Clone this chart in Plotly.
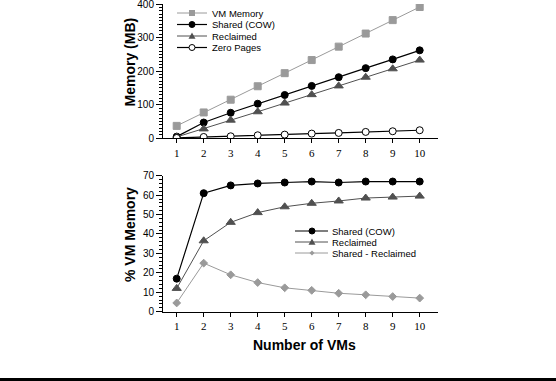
import plotly.graph_objects as go

vms = [1, 2, 3, 4, 5, 6, 7, 8, 9, 10]

# Top panel (MB)
vm_memory = [37, 77, 115, 155, 194, 233, 273, 312, 352, 391]
shared_cow = [5, 47, 76, 103, 129, 156, 182, 209, 235, 262]
reclaimed = [4, 28, 54, 79, 105, 130, 156, 182, 207, 233]
zero_pages = [1, 4, 6, 9, 11, 14, 16, 19, 21, 24]

# Bottom panel (% of VM memory)
pct_shared = [17, 61, 65, 66, 66.5, 67, 66.5, 67, 67, 67]
pct_reclaimed = [12, 36.5, 46, 51, 54, 55.8, 57, 58.5, 59, 59.5]
pct_diff = [4.5, 25, 19, 15, 12.3, 11, 9.5, 8.7, 7.8, 7]

top_names = ["VM Memory", "Shared (COW)", "Reclaimed", "Zero Pages"]
bottom_names = ["Shared (COW)", "Reclaimed", "Shared - Reclaimed"]

W, H = 556, 381
def px(x):
    return x / W
def py(y):
    return 1 - y / H

LGRAY = "#9a9a9a"
DGRAY = "#505050"
sans = "Liberation Sans, Arial, sans-serif"
serif = "Liberation Serif, Times New Roman, serif"

# style per series: (line color, line width, symbol, marker size, fill, outline)
styles_top = [
    (LGRAY, 1, "square", 7, LGRAY, LGRAY),
    ("black", 1.2, "circle", 7, "black", "black"),
    (DGRAY, 1, "triangle-up", 8, DGRAY, DGRAY),
    ("black", 1.2, "circle", 7, "white", "black"),
]
styles_bottom = [
    ("black", 1.2, "circle", 7, "black", "black"),
    (DGRAY, 1, "triangle-up", 8, DGRAY, DGRAY),
    (LGRAY, 1, "diamond", 6, LGRAY, LGRAY),
]

fig = go.Figure()
for name, ys, st in zip(top_names, [vm_memory, shared_cow, reclaimed, zero_pages], styles_top):
    fig.add_trace(go.Scatter(x=vms, y=ys, name=name, mode="lines+markers", showlegend=False,
                             line=dict(color=st[0], width=st[1]),
                             marker=dict(symbol=st[2], size=st[3], color=st[4], line=dict(color=st[5], width=1)),
                             xaxis="x", yaxis="y"))
for name, ys, st in zip(bottom_names, [pct_shared, pct_reclaimed, pct_diff], styles_bottom):
    fig.add_trace(go.Scatter(x=vms, y=ys, name=name, mode="lines+markers", showlegend=False,
                             line=dict(color=st[0], width=st[1]),
                             marker=dict(symbol=st[2], size=st[3], color=st[4], line=dict(color=st[5], width=1)),
                             xaxis="x2", yaxis="y2"))

# Custom compact legends (shapes + annotations)
shapes = []
annotations = []

def marker_shape(sym, cx, cy, size, fill, outline):
    r = size / 2.0
    if sym == "circle":
        return dict(type="circle", xref="paper", yref="paper", x0=px(cx - r), x1=px(cx + r),
                    y0=py(cy + r), y1=py(cy - r), fillcolor=fill, line=dict(color=outline, width=1))
    if sym == "square":
        return dict(type="rect", xref="paper", yref="paper", x0=px(cx - r), x1=px(cx + r),
                    y0=py(cy + r), y1=py(cy - r), fillcolor=fill, line=dict(color=outline, width=0))
    if sym == "triangle-up":
        path = "M %f,%f L %f,%f L %f,%f Z" % (px(cx), py(cy - r), px(cx - r), py(cy + r * 0.8),
                                               px(cx + r), py(cy + r * 0.8))
    else:  # diamond
        path = "M %f,%f L %f,%f L %f,%f L %f,%f Z" % (px(cx), py(cy - r), px(cx + r), py(cy),
                                                       px(cx), py(cy + r), px(cx - r), py(cy))
    return dict(type="path", xref="paper", yref="paper", path=path, fillcolor=fill,
                line=dict(color=outline, width=0))

def add_legend(names, styles, x0, x1, xm, xt, rows):
    for name, st, yr in zip(names, styles, rows):
        shapes.append(dict(type="line", xref="paper", yref="paper", x0=px(x0), x1=px(x1),
                           y0=py(yr), y1=py(yr), line=dict(color=st[0], width=st[1])))
        shapes.append(marker_shape(st[2], xm, yr, st[3] - 1, st[4], st[5]))
        annotations.append(dict(text=name, xref="paper", yref="paper", x=px(xt), y=py(yr),
                                xanchor="left", yanchor="middle", showarrow=False,
                                font=dict(family=sans, size=9.5, color="black")))

add_legend(top_names, styles_top, 177, 207, 192, 210, [13, 24.5, 36, 47.5])
add_legend(bottom_names, styles_bottom, 295, 328, 312, 330, [231, 242, 253])

# Axis titles
annotations.append(dict(text="<b>Memory (MB)</b>", xref="paper", yref="paper", x=px(129.5), y=py(62),
                        textangle=-90, showarrow=False, xanchor="center", yanchor="middle",
                        font=dict(family=sans, size=14, color="black")))
annotations.append(dict(text="<b>% VM Memory</b>", xref="paper", yref="paper", x=px(130), y=py(235),
                        textangle=-90, showarrow=False, xanchor="center", yanchor="middle",
                        font=dict(family=sans, size=14, color="black")))
annotations.append(dict(text="<b>Number of VMs</b>", xref="paper", yref="paper", x=px(304), y=py(345),
                        showarrow=False, xanchor="center", yanchor="middle",
                        font=dict(family=sans, size=14, color="black")))

shapes.append(dict(type="rect", xref="paper", yref="paper", x0=0, x1=1, y0=0, y1=3 / H,
                   fillcolor="black", line=dict(width=0)))

# x: value 1 at px 176.7, step 27 px
x_left, x_right = 163, 438
xr = [1 + (x_left - 176.7) / 27, 1 + (x_right - 176.7) / 27]
xdom = [px(x_left), px(x_right)]

xcommon = dict(range=xr, tickvals=vms, ticks="outside", ticklen=4, tickcolor="black",
               showline=True, linecolor="black", linewidth=1, showgrid=False, zeroline=False,
               tickfont=dict(family=serif, size=11, color="black"), domain=xdom)
ycommon = dict(ticks="outside", ticklen=6, tickcolor="black", showline=True, linecolor="black", linewidth=1,
               showgrid=False, zeroline=False, tickfont=dict(family=sans, size=10, color="black"),
               automargin=False, ticklabeloverflow="allow")

fig.update_layout(
    width=W, height=H,
    margin=dict(l=0, r=0, t=0, b=0),
    paper_bgcolor="white", plot_bgcolor="white",
    font=dict(family=sans, color="black"),
    showlegend=False,
    xaxis=dict(**xcommon, anchor="y"),
    yaxis=dict(**ycommon, range=[0, 400], dtick=100, domain=[py(138.3), py(4)], anchor="x",
               minor=dict(dtick=10, ticks="outside", ticklen=3, tickcolor="black")),
    xaxis2=dict(**xcommon, anchor="y2"),
    yaxis2=dict(**ycommon, range=[0, 70], dtick=10, domain=[py(311.7), py(175.7)], anchor="x2",
                minor=dict(dtick=2, ticks="outside", ticklen=3, tickcolor="black")),
    shapes=shapes,
    annotations=annotations,
)

fig.write_html("out.html", config={"displayModeBar": False},
               post_script="document.body.style.margin='0px';")
